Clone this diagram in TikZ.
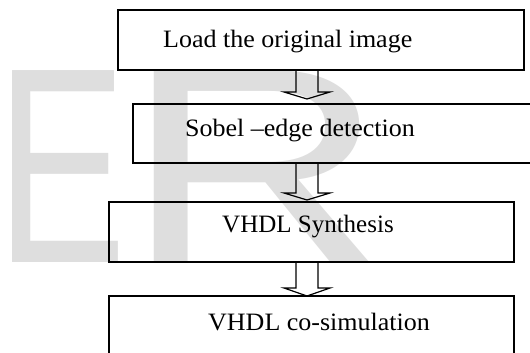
\documentclass[tikz,border=0pt]{standalone}
\usepackage{fontspec}
\setmainfont{Liberation Serif}
\newfontfamily\wmfont{Liberation Sans}
\usetikzlibrary{calc}
\begin{document}
\begin{tikzpicture}[x=1pt,y=-1pt,
  box/.style={draw=black, line width=1.6pt, rectangle, inner sep=0pt, outer sep=0pt, anchor=north west},
  lbl/.style={anchor=base west, inner sep=0pt, font=\fontsize{25}{29}\selectfont},
  hollow/.style={draw=black, line width=1.2pt, line join=miter},
  wm/.style={text=black!13, font=\wmfont\fontsize{279}{279}\selectfont, inner sep=0pt, anchor=base west}]
\useasboundingbox (0,0) rectangle (530,353);
% watermark
\node[wm] (wmE) at (-3.4,262) {\scalebox{0.7}[1]{E}};
\node[wm] (wmR) at (124,262) {\scalebox{1.3}[1]{R}};
% boxes
\begin{scope}
\clip (0,0) rectangle (530,353);
\node[box, minimum width=406pt, minimum height=60pt] (b1) at (118,10) {};
\node[box, minimum width=420pt, minimum height=59pt] (b2) at (133,104) {};
\node[box, minimum width=405pt, minimum height=60pt] (b3) at (109,202) {};
\node[box, minimum width=405pt, minimum height=80pt] (b4) at (109,296) {};
\end{scope}
% labels
\node[lbl] (t1) at (163,48) {\scalebox{1.04}[1]{Load the original image}};
\node[lbl] (t2) at (185,136) {\scalebox{1.04}[1]{Sobel --edge detection}};
\node[lbl] (t3) at (222,232) {VHDL Synthesis};
\node[lbl] (t4) at (208,330) {\scalebox{1.04}[1]{VHDL co-simulation}};
% hollow arrows
\coordinate (ax) at (307,0);
\draw[hollow] ($(ax |- b1.south)+(-11,0)$) -- ++(0,22) -- ++(-12,0) -- ($(ax |- b2.north)+(0,-5)$)
  -- ($(ax |- b1.south)+(23,22)$) -- ++(-12,0) -- ($(ax |- b1.south)+(11,0)$);
\draw[hollow] ($(ax |- b2.south)+(-11,0)$) -- ++(0,30) -- ++(-12,0) -- ($(ax |- b3.north)+(0,-2)$)
  -- ($(ax |- b2.south)+(23,30)$) -- ++(-12,0) -- ($(ax |- b2.south)+(11,0)$);
\draw[hollow] ($(ax |- b3.south)+(-11,0)$) -- ++(0,26) -- ++(-12,0) -- ($(ax |- b4.north)+(0,0)$)
  -- ($(ax |- b3.south)+(23,26)$) -- ++(-12,0) -- ($(ax |- b3.south)+(11,0)$);
\end{tikzpicture}
\end{document}
